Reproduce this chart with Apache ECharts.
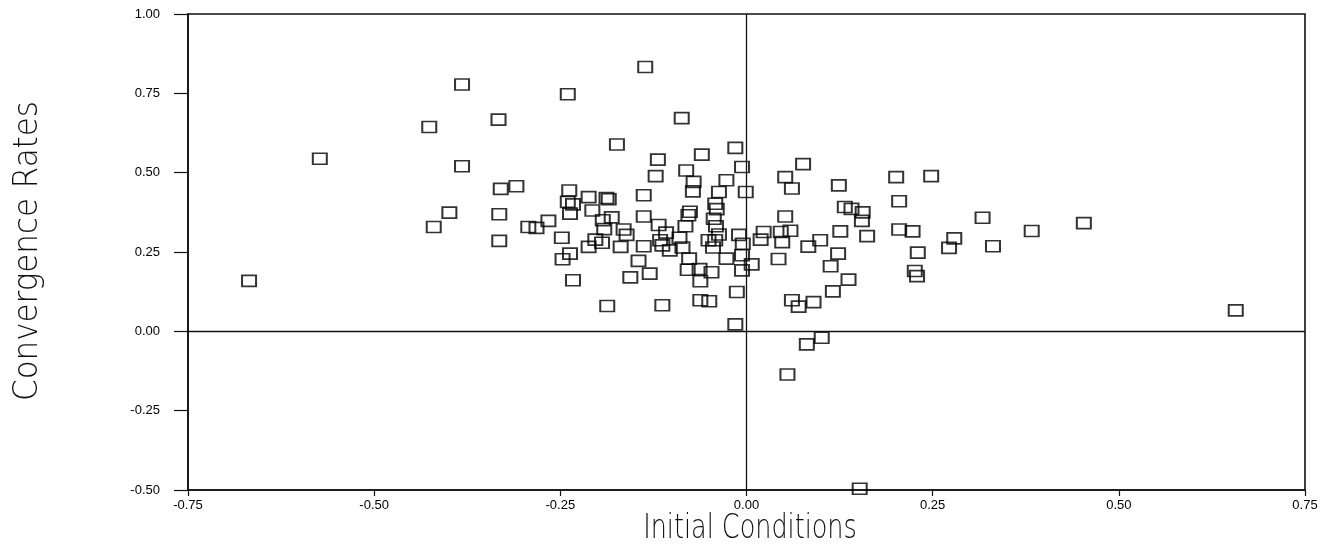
<!DOCTYPE html>
<html>
<head>
<meta charset="utf-8">
<script src="https://cdn.jsdelivr.net/npm/echarts@6/dist/echarts.min.js"></script>
<style>
html,body{margin:0;padding:0;background:#fff;}
#chart{width:1337px;height:556px;}
</style>
</head>
<body>
<div id="chart"></div>
<script>
// Initial Conditions (x) and Convergence Rates (y)
const initialConditions = [
  -0.382,-0.240,-0.426,-0.333,-0.573,-0.382,-0.330,-0.309,-0.238,-0.240,-0.233,-0.237,
  -0.399,-0.420,-0.332,-0.293,-0.282,-0.266,-0.332,-0.248,-0.668,-0.237,-0.247,-0.233,
  -0.136,-0.087,-0.174,-0.015,-0.119,-0.060,-0.006,-0.081,-0.122,-0.027,-0.071,-0.001,
  -0.037,-0.072,-0.138,-0.212,-0.188,-0.185,-0.207,-0.181,-0.193,-0.138,-0.191,-0.165,
  -0.161,-0.118,-0.108,-0.116,-0.138,-0.082,-0.078,-0.076,-0.042,-0.040,-0.044,-0.041,
  -0.037,-0.090,-0.051,-0.042,-0.045,-0.010,-0.005,-0.203,-0.194,-0.212,-0.169,-0.113,
  -0.103,-0.086,-0.145,-0.077,-0.027,-0.006,-0.006,-0.063,-0.047,-0.079,-0.130,-0.156,
  -0.062,-0.013,-0.062,-0.050,-0.113,-0.187,-0.015,
  0.076,0.052,0.061,0.124,0.201,0.248,0.205,0.132,0.141,0.156,0.155,0.052,
  0.205,0.223,0.126,0.162,0.279,0.272,0.023,0.019,0.046,0.059,0.048,0.099,
  0.083,0.007,0.043,0.123,0.113,0.137,0.116,0.061,0.090,0.070,0.101,0.081,
  0.055,0.152,0.230,0.226,0.229,0.317,0.383,0.453,0.331,0.657
];
const convergenceRates = [
  0.778,0.747,0.644,0.667,0.544,0.520,0.449,0.457,0.444,0.408,0.400,0.371,
  0.374,0.329,0.369,0.329,0.326,0.348,0.285,0.295,0.159,0.245,0.227,0.161,
  0.833,0.672,0.589,0.578,0.541,0.557,0.518,0.507,0.489,0.476,0.471,0.439,
  0.439,0.441,0.429,0.423,0.420,0.416,0.381,0.359,0.350,0.362,0.322,0.321,
  0.304,0.335,0.311,0.287,0.268,0.331,0.366,0.377,0.402,0.385,0.355,0.331,
  0.305,0.295,0.287,0.287,0.264,0.304,0.276,0.289,0.279,0.266,0.266,0.271,
  0.255,0.264,0.222,0.229,0.229,0.240,0.192,0.196,0.186,0.194,0.182,0.170,
  0.158,0.124,0.098,0.095,0.082,0.080,0.022,
  0.527,0.486,0.450,0.460,0.486,0.489,0.410,0.392,0.386,0.375,0.348,0.362,
  0.321,0.315,0.315,0.300,0.293,0.263,0.313,0.289,0.313,0.317,0.281,0.287,
  0.267,0.211,0.228,0.245,0.205,0.163,0.126,0.098,0.092,0.078,-0.020,-0.041,
  -0.136,-0.496,0.248,0.190,0.174,0.358,0.316,0.341,0.268,0.066
];
const xTicks = [-0.75,-0.50,-0.25,0.00,0.25,0.50,0.75];
const yTicks = [-0.50,-0.25,0.00,0.25,0.50,0.75,1.00];
const xTitle = 'Initial Conditions';
const yTitle = 'Convergence Rates';

const points = initialConditions.map((x, i) => [x, convergenceRates[i]]);

const chart = echarts.init(document.getElementById('chart'), null, {renderer: 'canvas'});
const labelFont = {fontFamily: 'Liberation Sans', fontSize: 13, color: '#000'};
const titleFont = "200 34px 'DejaVu Sans'";
chart.setOption({
  animation: false,
  backgroundColor: '#ffffff',
  grid: {left: 188, right: 32, top: 14, bottom: 66, show: true, borderColor: '#111', borderWidth: 1.6, backgroundColor: 'transparent'},
  graphic: [
    {type: 'text', x: 750, y: 529, scaleX: 0.75, silent: true,
     style: {text: xTitle, font: titleFont, fill: '#111', textAlign: 'center', textVerticalAlign: 'middle'}},
    {type: 'text', x: 28, y: 251, rotation: Math.PI / 2, scaleX: 0.91, silent: true,
     style: {text: yTitle, font: titleFont, fill: '#111', textAlign: 'center', textVerticalAlign: 'middle'}}
  ],
  xAxis: {
    type: 'value', min: xTicks[0], max: xTicks[xTicks.length - 1], interval: 0.25,
    axisLine: {onZero: false, lineStyle: {color: '#111', width: 1.6}},
    axisTick: {show: true, inside: false, length: 6, lineStyle: {color: '#111', width: 1.2}},
    axisLabel: Object.assign({margin: 9, formatter: v => v.toFixed(2)}, labelFont),
    splitLine: {show: false}
  },
  yAxis: {
    type: 'value', min: yTicks[0], max: yTicks[yTicks.length - 1], interval: 0.25,
    axisLine: {onZero: false, lineStyle: {color: '#111', width: 1.6}},
    axisTick: {show: true, inside: false, length: 14, lineStyle: {color: '#111', width: 1.2}},
    axisLabel: Object.assign({margin: 28, formatter: v => v.toFixed(2)}, labelFont),
    splitLine: {show: false}
  },
  series: [{
    type: 'scatter',
    data: points,
    symbol: 'rect',
    symbolSize: [14, 11],
    itemStyle: {color: 'rgba(0,0,0,0)', borderColor: '#000', borderWidth: 1.8},
    markLine: {
      silent: true, symbol: 'none', animation: false,
      label: {show: false},
      lineStyle: {color: '#111', width: 1.3, type: 'solid'},
      data: [{xAxis: 0}, {yAxis: 0}]
    }
  }]
});
</script>
</body>
</html>
